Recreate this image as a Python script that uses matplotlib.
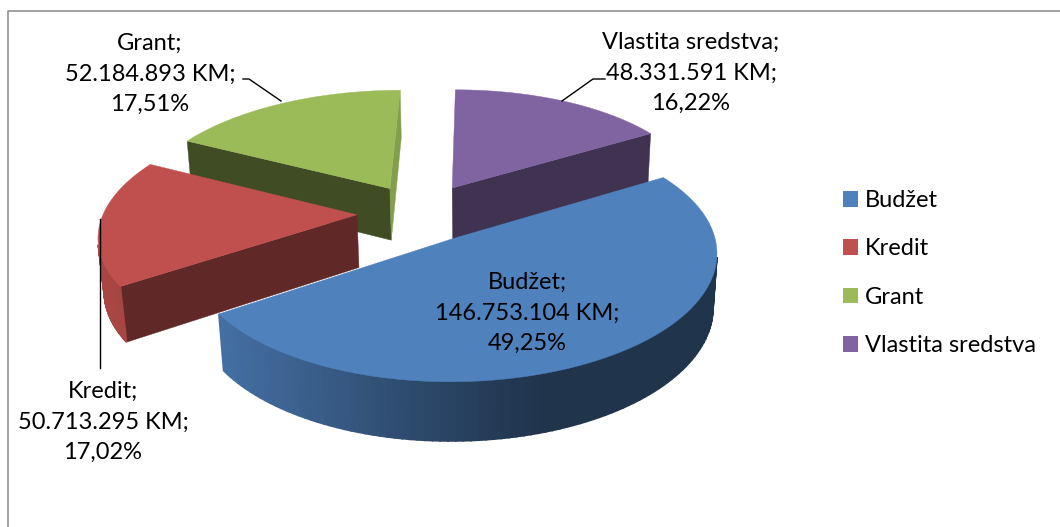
import numpy as np
import matplotlib
matplotlib.use("Agg")
import matplotlib.pyplot as plt
from matplotlib.patches import Polygon, Patch
from matplotlib.colors import to_rgb

# ---------------- data ----------------
categories = ["Budžet", "Kredit", "Grant", "Vlastita sredstva"]
values = [146753104, 50713295, 52184893, 48331591]
value_labels = ["146.753.104 KM", "50.713.295 KM", "52.184.893 KM", "48.331.591 KM"]
pct_labels = ["49,25%", "17,02%", "17,51%", "16,22%"]
colors = ["#4F81BD", "#C0504D", "#9BBB59", "#8064A2"]

# ---------------- 3D pie view settings ----------------
FIRST_ANGLE = 58.39   # degrees clockwise from 12 o'clock
PX0, PY0 = 420.5, 212.9   # screen position of the pie centre (pixels)
XC = 0.235            # lateral camera offset (pie radii)
S = 253.5             # radius in pixels
PHI = 0.481           # elevation (radians)
U = 0.149             # perspective strength
E = 0.250             # explosion (pie radii)
H = 0.238             # thickness (pie radii)

vals = np.array(values, float)
frac = vals / vals.sum()
starts = FIRST_ANGLE + 360 * np.concatenate([[0], np.cumsum(frac)[:-1]])
ends = starts + 360 * frac
mids = (starts + ends) / 2


def project(X, B, h):
    depth = 1 + U * (B * np.cos(PHI) - h * np.sin(PHI))
    sx = PX0 + S * XC + S * (X - XC) / depth
    sy = PY0 - S * (B * np.sin(PHI) + h * np.cos(PHI)) / depth
    return sx, sy


CAM = np.array([XC, -np.cos(PHI) / U, np.sin(PHI) / U])


def shade(c, f):
    return tuple(np.clip(np.array(to_rgb(c)) * f, 0, 1))


def visible(normal, point):
    return np.dot(normal, CAM - np.array(point)) > 0


# ---------------- figure ----------------
fig = plt.figure(figsize=(10.6, 5.27), dpi=100)
ax = fig.add_axes([0, 0, 1, 1])
ax.set_xlim(0, 1060)
ax.set_ylim(527, 0)
ax.axis("off")

order = sorted(range(len(vals)), key=lambda i: -(np.cos(np.radians(mids[i]))))
for i in order:
    a0, a1, m = np.radians(starts[i]), np.radians(ends[i]), np.radians(mids[i])
    ox, ob = E * np.sin(m), E * np.cos(m)
    ts = np.linspace(a0, a1, 120)
    c = colors[i]
    # radial faces
    for a, nrm in ((a0, np.array([-np.cos(a0), np.sin(a0), 0])),
                   (a1, np.array([np.cos(a1), -np.sin(a1), 0]))):
        if visible(nrm, (ox, ob, -H / 2)):
            quad = [project(ox, ob, 0), project(ox + np.sin(a), ob + np.cos(a), 0),
                    project(ox + np.sin(a), ob + np.cos(a), -H), project(ox, ob, -H)]
            ang = np.degrees(np.arctan2(nrm[0], nrm[1])) % 360
            if ang < 120:
                f = 0.85
            else:
                f = float(np.clip(0.5 - 0.0016 * (ang - 147), 0.38, 0.55))
            ax.add_patch(Polygon(quad, closed=True, facecolor=shade(c, f),
                                 edgecolor=shade(c, f), lw=0.3))
    # curved wall
    for k in range(len(ts) - 1):
        t0, t1 = ts[k], ts[k + 1]
        tm = (t0 + t1) / 2
        nrm = np.array([np.sin(tm), np.cos(tm), 0])
        if visible(nrm, (ox + np.sin(tm), ob + np.cos(tm), -H / 2)):
            quad = [project(ox + np.sin(t0), ob + np.cos(t0), 0),
                    project(ox + np.sin(t1), ob + np.cos(t1), 0),
                    project(ox + np.sin(t1), ob + np.cos(t1), -H),
                    project(ox + np.sin(t0), ob + np.cos(t0), -H)]
            f = 0.40 + 0.48 * max(0.0, np.cos(tm - np.radians(250))) ** 1.3
            ax.add_patch(Polygon(quad, closed=True, facecolor=shade(c, f),
                                 edgecolor=shade(c, f), lw=1.2))
    # top face
    top = [project(ox, ob, 0)] + [project(ox + np.sin(t), ob + np.cos(t), 0) for t in ts]
    ax.add_patch(Polygon(top, closed=True, facecolor=c, edgecolor=c, lw=0.3))

# chart-area border (top and left visible)
ax.plot([8, 8, 1070], [540, 11, 11], color="#878787", lw=1.1, clip_on=False)

# data labels
FONT = "Lato"
FS = 17
label_pos = [(527, 313), (103, 422), (150, 74), (691, 73)]
for i in range(len(vals)):
    ax.text(label_pos[i][0], label_pos[i][1],
            "%s;\n%s;\n%s" % (categories[i], value_labels[i], pct_labels[i]),
            ha="center", va="center", fontsize=FS, family=FONT, linespacing=1.56,
            color="black")

# leader lines
ax.plot([243, 249, 281], [79, 79, 101], color="black", lw=1)
ax.plot([605, 593, 562], [79, 79, 101], color="black", lw=1)
ax.plot([100, 100], [219, 368], color="black", lw=1)

handles = [Patch(facecolor=colors[i], edgecolor="none") for i in range(len(vals))]
ax.legend(handles, categories, loc="upper left", bbox_to_anchor=(843, 190),
          bbox_transform=ax.transData, frameon=False,
          prop={"family": FONT, "size": FS}, handlelength=0.64, handleheight=0.64,
          handletextpad=0.3, labelspacing=1.16, borderpad=0, borderaxespad=0)

fig.savefig("out.png", dpi=100)
